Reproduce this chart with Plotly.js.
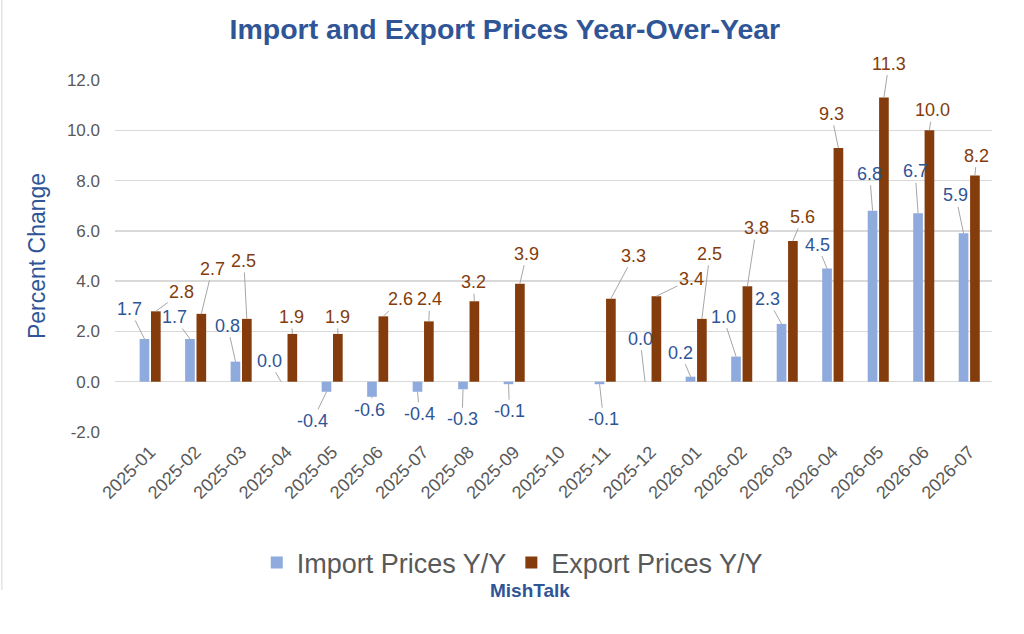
<!DOCTYPE html>
<html>
<head>
<meta charset="utf-8">
<script src="https://cdn.plot.ly/plotly-3.0.1.min.js"></script>
<style>
	body { margin:0; background:#fff; }
	#chart { width:1024px; height:634px; }
</style>
</head>
<body>
<div id="chart"></div>
<script>
var months = ["2025-01","2025-02","2025-03","2025-04","2025-05","2025-06","2025-07","2025-08","2025-09","2025-10",
	"2025-11","2025-12","2026-01","2026-02","2026-03","2026-04","2026-05","2026-06","2026-07"];
var importYY = [1.7, 1.7, 0.8, 0.0, -0.4, -0.6, -0.4, -0.3, -0.1, null, -0.1, 0.0, 0.2, 1.0, 2.3, 4.5, 6.8, 6.7, 5.9];
var exportYY = [2.8, 2.7, 2.5, 1.9, 1.9, 2.6, 2.4, 3.2, 3.9, null, 3.3, 3.4, 2.5, 3.8, 5.6, 9.3, 11.3, 10.0, 8.2];
var yTicks = [-2, 0, 2, 4, 6, 8, 10, 12];

// where Excel put each data label, pixels from the top of its bar
var importDx = [-15, -16, -8, -12, -14, -3, 2, -1, 1, 0, 4, -5, -10, -13, -14, -10, -3, -3, -8];
var importDy = [-30, -22, -36, -21, 29, 13, 22, 30, 27, 0, 35, -43, -24, -40, -25, -24, -37, -42, -38];
var exportDx = [26, 11, -3, -1, 0, 17, 1, -1, 7, 0, 23, 35, 8, 9, 10, -7, 5, 3, 2];
var exportDy = [-19, -45, -58, -17, -17, -17, -22, -19, -30, 0, -43, -17, -65, -58, -24, -34, -34, -20, -20];

var blue = "#2F5597";
var brown = "#843C0C";
var barShift = 0.124;

function labels(vals, dx, dy, shift, color){
	var out = [];
	for (var i = 0; i < vals.length; i++){
		if (vals[i] === null) continue;
		out.push({
			x: i + shift, y: vals[i], xref: "x", yref: "y",
			text: vals[i].toFixed(1),
			showarrow: true, arrowhead: 0, arrowwidth: 1, arrowcolor: "#A6A6A6", standoff: 0,
			ax: dx[i], ay: dy[i],
			font: {family: "Liberation Sans, Arial, sans-serif", size: 18, color: color}
		});
	}
	return out;
}

var imports = {
	x: months, y: importYY, type: "bar", name: "Import Prices Y/Y",
	marker: {color: "#8FAADC"}, hoverinfo: "x+y"
};
var exports = {
	x: months, y: exportYY, type: "bar", name: "Export Prices Y/Y",
	marker: {color: brown}, hoverinfo: "x+y"
};

var notes = labels(importYY, importDx, importDy, -barShift, blue)
	.concat(labels(exportYY, exportDx, exportDy, barShift, brown));
notes.push({
	xref: "paper", yref: "paper", x: 0.473, y: -0.449, xanchor: "center", yanchor: "middle", showarrow: false,
	text: "<b>MishTalk</b>",
	font: {family: "Liberation Sans, Arial, sans-serif", size: 19, color: blue}
});

var layout = {
	width: 1024, height: 634,
	margin: {l: 115, r: 32, t: 80, b: 202},
	paper_bgcolor: "#fff", plot_bgcolor: "#fff",
	title: {
		text: "<b>Import and Export Prices Year-Over-Year</b>",
		x: 0.493, xanchor: "center", y: 0.955, yanchor: "middle", yref: "container",
		font: {family: "Liberation Sans, Arial, sans-serif", size: 28.5, color: blue}
	},
	barmode: "group", bargap: 0.5, bargroupgap: 0.15,
	xaxis: {
		type: "category", tickangle: -45, showgrid: false, zeroline: false, ticks: "",
		ticklabelstandoff: 5,
		tickfont: {family: "Liberation Sans, Arial, sans-serif", size: 18, color: "#595959"}
	},
	yaxis: {
		range: [-2, 12], tickmode: "array", tickvals: yTicks,
		ticktext: yTicks.map(function(v){ return v.toFixed(1); }),
		gridcolor: "#D9D9D9", gridwidth: 1.5, zeroline: true, zerolinecolor: "#D9D9D9", zerolinewidth: 1.5,
		ticks: "", ticklabelstandoff: 14,
		tickfont: {family: "Liberation Sans, Arial, sans-serif", size: 17, color: "#595959"},
		title: {text: "Percent Change", standoff: 14,
			font: {family: "Liberation Sans, Arial, sans-serif", size: 23, color: blue}}
	},
	showlegend: true,
	legend: {
		orientation: "h", x: 0.453, xanchor: "center", y: -0.372, yanchor: "middle",
		font: {family: "Liberation Sans, Arial, sans-serif", size: 27, color: "#595959"},
		itemwidth: 30
	},
	shapes: [{
		type: "line", xref: "paper", yref: "paper", x0: -0.129, x1: -0.129, y0: -0.449, y1: 1.25,
		line: {color: "#E3E3E3", width: 1.5}
	}],
	annotations: notes
};

Plotly.newPlot("chart", [imports, exports], layout, {staticPlot: true});
</script>
</body>
</html>
